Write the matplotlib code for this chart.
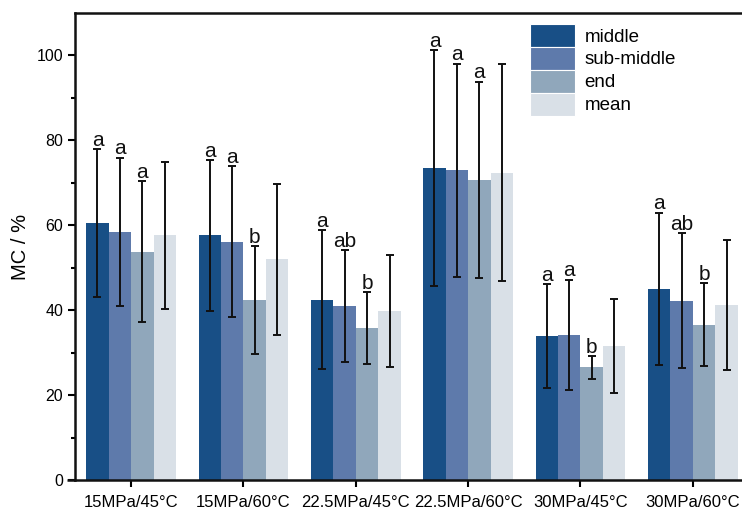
import numpy as np
import matplotlib
matplotlib.use("Agg")
import matplotlib.pyplot as plt

plt.rcParams['font.family'] = ['Liberation Sans', 'DejaVu Sans']

conditions = ["15MPa/45°C", "15MPa/60°C", "22.5MPa/45°C",
              "22.5MPa/60°C", "30MPa/45°C", "30MPa/60°C"]
series = ["middle", "sub-middle", "end", "mean"]
colors = ["#184f86", "#5e7aab", "#90a7bb", "#d9e0e7"]

mc_middle = [60.6, 57.6, 42.5, 73.5, 33.9, 45.1]
mc_sub_middle = [58.5, 56.1, 40.9, 73.0, 34.2, 42.2]
mc_end = [53.8, 42.4, 35.8, 70.7, 26.5, 36.6]
mc_mean = [57.6, 52.0, 39.9, 72.4, 31.5, 41.3]

sd_middle = [17.4, 17.8, 16.3, 27.7, 12.2, 17.9]
sd_sub_middle = [17.4, 17.8, 13.2, 25.1, 13.0, 15.9]
sd_end = [16.6, 12.7, 8.4, 23.1, 2.6, 9.7]
sd_mean = [17.3, 17.8, 13.2, 25.5, 11.1, 15.3]

letters_middle = ["a", "a", "a", "a", "a", "a"]
letters_sub_middle = ["a", "a", "ab", "a", "a", "ab"]
letters_end = ["a", "b", "b", "a", "b", "b"]

values = [mc_middle, mc_sub_middle, mc_end, mc_mean]
errors = [sd_middle, sd_sub_middle, sd_end, sd_mean]
letters = [letters_middle, letters_sub_middle, letters_end, None]

fig = plt.figure(figsize=(7.42, 5.14), dpi=100)
ax = fig.add_axes([75 / 742, 34 / 514, 674 / 742, 467 / 514])

x = np.arange(len(conditions))
width = 0.2
for i, (name, vals, errs, col) in enumerate(zip(series, values, errors, colors)):
    pos = x + (i - 1.5) * width
    ax.bar(pos, vals, width=width, color=col, label=name, zorder=2)
    ax.errorbar(pos, vals, yerr=errs, fmt="none", ecolor="#111111",
                elinewidth=1.4, capsize=3, capthick=1.4, zorder=3)
    if letters[i] is not None:
        for px, v, e, t in zip(pos, vals, errs, letters[i]):
            ax.annotate(t, (px, v + e), xytext=(0, -0.5), textcoords="offset points",
                        ha="center", va="bottom", fontsize=15, color="#111111")

ax.set_xlim(-0.5, 5.5)
ax.set_ylim(0, 110)
ax.set_yticks([0, 20, 40, 60, 80, 100])
ax.set_yticks([10, 30, 50, 70, 90], minor=True)
ax.set_xticks(x)
ax.set_xticklabels(conditions, fontsize=12)
ax.tick_params(axis="y", labelsize=11.5, width=1.5, length=5, direction="out")
ax.tick_params(axis="y", which="minor", width=1.5, length=3)
ax.tick_params(axis="x", width=1.5, length=5, direction="out", pad=6)
ax.set_ylabel("MC / %", fontsize=14.5, labelpad=5)

for s in ["left", "bottom", "top"]:
    ax.spines[s].set_linewidth(1.8)
    ax.spines[s].set_color("#111111")
ax.spines["right"].set_visible(False)
ax.plot([-0.012, 0], [0, 0], transform=ax.transAxes, color="#111111",
        lw=1.8, clip_on=False, solid_capstyle="butt")

leg = ax.legend(loc="upper left", bbox_to_anchor=(455 / 674, 1 - 11 / 467),
                frameon=False, fontsize=13.5, handlelength=2.4, handleheight=1.5,
                handletextpad=0.5, labelspacing=0.0, borderaxespad=0, borderpad=0)
for h in leg.legend_handles:
    h.set_edgecolor("white")
    h.set_linewidth(0.8)

fig.savefig("out.png", dpi=100)
